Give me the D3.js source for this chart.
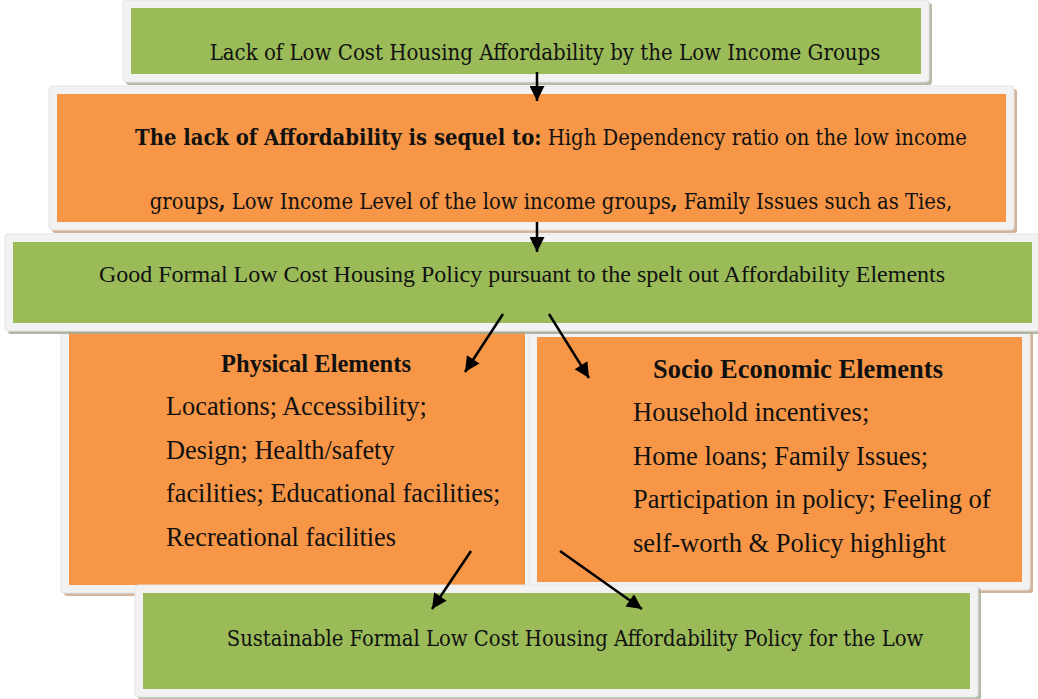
<!DOCTYPE html>
<html>
<head>
<meta charset="utf-8">
<script src="https://cdn.jsdelivr.net/npm/d3@7"></script>
<style>
  body { margin: 0; background: #fff; }
  svg { display: block; }
</style>
</head>
<body>
<svg id="chart"></svg>
<script>
// text content of the flow
const topText = "Lack of Low Cost Housing Affordability by the Low Income Groups";
const causeLines = [
  [{ t: "The lack of Affordability is sequel to:", b: true }, { t: " High Dependency ratio on the low income" }],
  [{ t: "groups" }, { t: ",", b: true }, { t: " Low Income Level of the low income groups" }, { t: ",", b: true }, { t: " Family Issues such as Ties," }]
];
const policyText = "Good Formal Low Cost Housing Policy pursuant to the spelt out Affordability Elements";
const physicalTitle = "Physical Elements";
const physicalItems = ["Locations; Accessibility;", "Design; Health/safety", "facilities; Educational facilities;", "Recreational facilities"];
const socioTitle = "Socio Economic Elements";
const socioItems = ["Household incentives;", "Home loans; Family Issues;", "Participation in policy; Feeling of", "self-worth & Policy highlight"];
const outcomeText = "Sustainable Formal Low Cost Housing Affordability Policy for the Low";

const width = 1038, height = 699;
const GREEN = "#9bbb59", ORANGE = "#f79646";
const cambria = "'DejaVu Serif Condensed', 'DejaVu Serif', serif";
const times = "'Liberation Serif', 'Times New Roman', serif";

const svg = d3.select("#chart").attr("width", width).attr("height", height);

// box layout (inner fill rectangle), drawn in this order
const boxes = {
  top:     { x0: 131, y0: 8,   x1: 921,  y1: 74,  fill: GREEN,  shadow: "#a7b097" },
  cause:   { x0: 57,  y0: 94,  x1: 1006, y1: 222, fill: ORANGE, shadow: "#cfa586" },
  phys:    { x0: 69,  y0: 332, x1: 525,  y1: 585, fill: ORANGE, shadow: "#c9a88c" },
  socio:   { x0: 537, y0: 337, x1: 1022, y1: 582, fill: ORANGE, shadow: "#cfa586" },
  policy:  { x0: 13,  y0: 242, x1: 1032, y1: 323, fill: GREEN,  shadow: "#a2ab95" },
  outcome: { x0: 143, y0: 593, x1: 970,  y1: 689, fill: GREEN,  shadow: "#a7b097" }
};
const pad = 8;

Object.values(boxes).forEach(b => {
  const g = svg.append("g");
  g.append("rect")
    .attr("x", b.x0 - pad + 3).attr("y", b.y0 - pad + 3)
    .attr("width", b.x1 - b.x0 + pad * 2).attr("height", b.y1 - b.y0 + pad * 2)
    .attr("rx", 3).attr("fill", b.shadow).attr("opacity", 0.85);
  g.append("rect")
    .attr("x", b.x0 - pad).attr("y", b.y0 - pad)
    .attr("width", b.x1 - b.x0 + pad * 2).attr("height", b.y1 - b.y0 + pad * 2)
    .attr("rx", 3).attr("fill", "#f2f2f2").attr("stroke", "#e4e4e4").attr("stroke-width", 1);
  g.append("rect")
    .attr("x", b.x0).attr("y", b.y0)
    .attr("width", b.x1 - b.x0).attr("height", b.y1 - b.y0)
    .attr("fill", b.fill);
});

function line(x, y, txt, opts) {
  return svg.append("text")
    .attr("x", x).attr("y", y)
    .attr("text-anchor", opts.anchor || "middle")
    .attr("font-family", opts.font)
    .attr("font-size", opts.size)
    .attr("font-weight", opts.bold ? "bold" : "normal")
    .attr("fill", "#111")
    .text(txt);
}

line(545, 60, topText, { font: cambria, size: 22 });

causeLines.forEach((segs, i) => {
  const t = svg.append("text")
    .attr("x", 551).attr("y", [145, 209][i])
    .attr("text-anchor", "middle")
    .attr("font-family", cambria)
    .attr("font-size", 21.8)
    .attr("fill", "#111");
  segs.forEach(s => t.append("tspan").attr("font-weight", s.b ? "bold" : "normal").text(s.t));
});

line(522, 282, policyText, { font: times, size: 24 });

line(316, 372, physicalTitle, { font: times, size: 24.5, bold: true });
physicalItems.forEach((s, i) => line(166, 415 + i * 43.5, s, { font: times, size: 26.3, anchor: "start" }));

line(798, 378, socioTitle, { font: times, size: 26.5, bold: true });
socioItems.forEach((s, i) => line(633, 421 + i * 43.5, s, { font: times, size: 26.5, anchor: "start" }));

line(575, 646, outcomeText, { font: cambria, size: 21.8 });

// arrows
const arrows = [
  [[537, 72], [537, 101]],
  [[537, 222], [537, 252]],
  [[503, 314], [465, 372]],
  [[549, 314], [589, 378]],
  [[471, 551], [432, 609]],
  [[560, 551], [642, 609]]
];

svg.append("defs").append("marker")
  .attr("id", "head")
  .attr("viewBox", "0 0 10 10")
  .attr("refX", 10).attr("refY", 5)
  .attr("markerWidth", 7).attr("markerHeight", 6)
  .attr("markerUnits", "strokeWidth")
  .attr("orient", "auto")
  .append("path").attr("d", "M0,0L10,5L0,10Z").attr("fill", "#000");

svg.selectAll(".arrow")
  .data(arrows)
  .enter().append("line")
  .attr("class", "arrow")
  .attr("x1", d => d[0][0]).attr("y1", d => d[0][1])
  .attr("x2", d => d[1][0]).attr("y2", d => d[1][1])
  .attr("stroke", "#000").attr("stroke-width", 2.5)
  .attr("marker-end", "url(#head)");
</script>
</body>
</html>
